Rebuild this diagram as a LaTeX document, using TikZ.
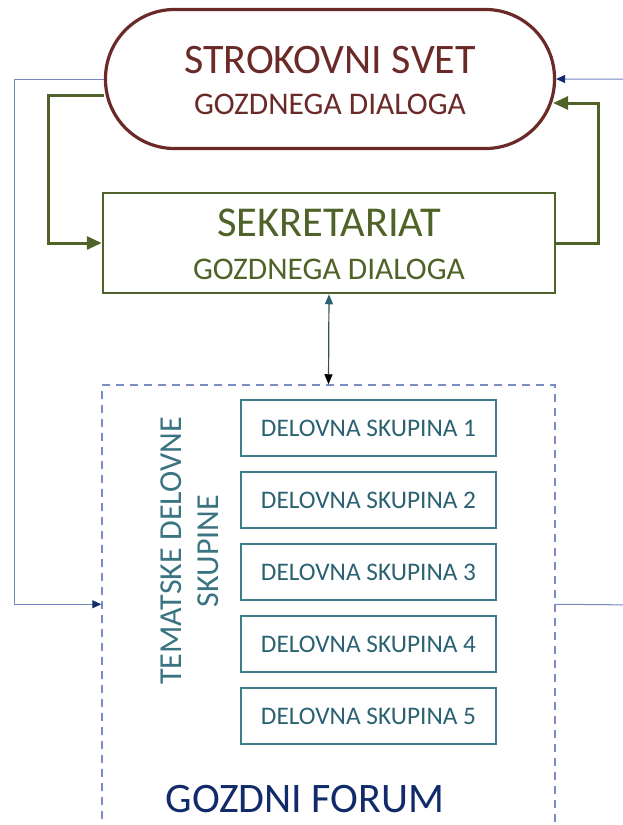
\documentclass[tikz,border=0pt]{standalone}
\usepackage{fontspec}
\setmainfont{Carlito}
\usetikzlibrary{arrows.meta,calc}
\definecolor{strokred}{HTML}{6A2A28}
\definecolor{sgreen}{HTML}{4F6228}
\definecolor{tealtxt}{HTML}{2B6272}
\definecolor{tealbox}{HTML}{3E7C8C}
\definecolor{dashblue}{HTML}{7A8CC4}
\definecolor{lineblue}{HTML}{7289C2}
\definecolor{navy}{HTML}{102A6A}
\definecolor{midline}{HTML}{3A4E56}
\definecolor{vtext}{HTML}{3A7382}
\tikzset{
  stadium/.style={draw=strokred, line width=3.2pt, rounded corners=69pt, minimum width=449pt, minimum height=139pt, inner sep=0pt},
  secbox/.style={draw=sgreen, line width=2.5pt, minimum width=452pt, minimum height=100pt, inner sep=0pt},
  dsbox/.style={draw=tealbox, line width=1.2pt, minimum width=255pt, minimum height=56pt, text=tealtxt, font=\fontsize{25.3}{28}\selectfont, inner sep=0pt},
  forumbox/.style={draw=dashblue, line width=1.5pt, dash pattern=on 8pt off 6pt, minimum width=453pt, minimum height=460pt, inner sep=0pt},
  greenline/.style={draw=sgreen, line width=3pt, -{Triangle[length=15pt,width=13pt]}},
  blueline/.style={draw=lineblue, line width=1pt, -{Triangle[length=9pt,width=8pt,color=navy]}},
}
\begin{document}
\begin{tikzpicture}[x=1pt,y=-1pt]
\useasboundingbox (0,0) rectangle (622,825);
\node[stadium] (strok) at (330,79) {};
\node[text=strokred, align=center, inner sep=0pt, font=\fontsize{31.5}{41}\selectfont] (strokt) at (330,80) {{\fontsize{42}{41}\selectfont STROKOVNI SVET}\\GOZDNEGA DIALOGA};
\node[secbox] (sek) at (329,243) {};
\node[text=sgreen, align=center, inner sep=0pt, font=\fontsize{31.5}{43}\selectfont] (sekt) at (329,244) {{\fontsize{42.5}{43}\selectfont SEKRETARIAT}\\GOZDNEGA DIALOGA};
\node[forumbox] (forum) at (328.5,615) {};
\node[dsbox] (d1) at (368.5,428) {DELOVNA SKUPINA 1};
\node[dsbox] (d2) at (368.5,500) {DELOVNA SKUPINA 2};
\node[dsbox] (d3) at (368.5,572) {DELOVNA SKUPINA 3};
\node[dsbox] (d4) at (368.5,644) {DELOVNA SKUPINA 4};
\node[dsbox] (d5) at (368.5,716) {DELOVNA SKUPINA 5};
\node[rotate=90, text=vtext, align=center, font=\fontsize{32}{37}\selectfont, inner sep=0pt] (tem) at (190,551) {TEMATSKE DELOVNE\\SKUPINE};
\node[text=navy, font=\fontsize{42}{44}\selectfont, inner sep=0pt] (gf) at (305,799) {GOZDNI FORUM};
% green connectors
\coordinate (gl0) at ($(strok.west)+(0,16)$);
\coordinate (gl1) at (48,95);
\draw[greenline] (gl0) -- (gl1) |- (sek.west);
\coordinate (gr0) at (598,243);
\coordinate (gr1) at ($(strok.east)+(-3,24)$);
\draw[greenline] (sek.east) -- (gr0) |- (gr1);
% blue connectors
\coordinate (bl0) at (14,79);
\coordinate (bl1) at ($(forum.north west)+(0,220)$);
\draw[blueline] (strok.west) -- (bl0) |- (bl1);
\coordinate (br0) at ($(forum.north east)+(0,220)$);
\coordinate (br1) at (640,605);
\coordinate (br2) at (640,79);
\draw[blueline] (br0) -- (br1) -- (br2) -- (strok.east);
% middle
\draw[midline, line width=1.2pt, {Triangle[length=10pt,width=8pt,color=tealtxt]}-{Triangle[length=10pt,width=8pt,color=black]}] (sek.south) -- (forum.north);
\end{tikzpicture}
\end{document}
